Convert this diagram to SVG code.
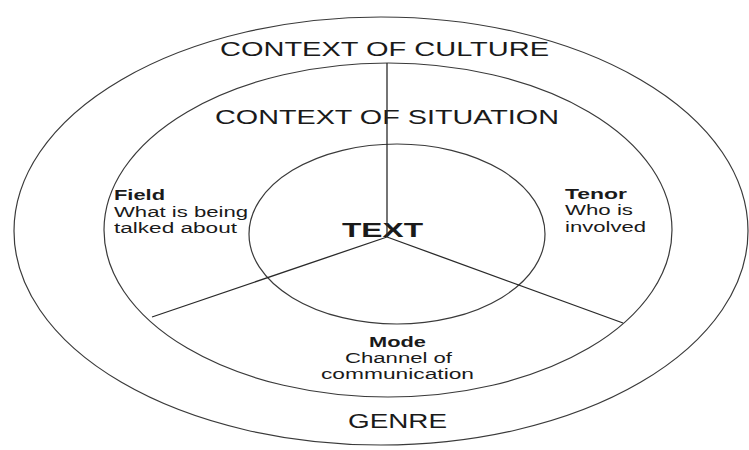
<svg xmlns="http://www.w3.org/2000/svg" width="749" height="450" viewBox="0 0 749 450">
  <style>
    .ring { fill: none; stroke: #3a3a3a; stroke-width: 1.2; }
    .spoke { stroke: #2a2a2a; stroke-width: 1.3; fill: none; }
    text { font-family: "Liberation Sans", Arial, sans-serif; fill: #1a1a1a; }
    .big { font-size: 20px; }
    .small { font-size: 14px; }
    .head { font-size: 14px; font-weight: bold; }
    .core { font-size: 21px; font-weight: bold; }
  </style>
  <rect width="749" height="450" fill="#ffffff"/>

  <!-- outer ring: context of culture / genre -->
  <g id="culture">
    <ellipse class="ring" cx="381" cy="231" rx="367" ry="214"/>
    <text class="big" x="220" y="56" textLength="329" lengthAdjust="spacingAndGlyphs">CONTEXT OF CULTURE</text>
    <text class="big" x="348" y="428" textLength="99" lengthAdjust="spacingAndGlyphs">GENRE</text>
  </g>

  <!-- middle ring: context of situation -->
  <g id="situation">
    <ellipse class="ring" cx="388" cy="230" rx="284" ry="167"/>
    <text class="big" x="215" y="124" textLength="344" lengthAdjust="spacingAndGlyphs">CONTEXT OF SITUATION</text>
  </g>

  <!-- inner ring: the text itself -->
  <g id="text-core">
    <ellipse class="ring" cx="397" cy="234" rx="148" ry="90"/>
    <text class="core" x="342" y="237" textLength="81" lengthAdjust="spacingAndGlyphs">TEXT</text>
  </g>

  <!-- spokes dividing the situation into three sectors -->
  <g id="connectors">
    <line class="spoke" x1="387" y1="63" x2="387" y2="237"/>
    <line class="spoke" x1="387" y1="237" x2="152" y2="317"/>
    <line class="spoke" x1="387" y1="237" x2="623" y2="323"/>
  </g>

  <g id="field">
    <text class="head" x="114" y="200" textLength="51" lengthAdjust="spacingAndGlyphs">Field</text>
    <text class="small" x="114" y="217" textLength="134" lengthAdjust="spacingAndGlyphs">What is being</text>
    <text class="small" x="114" y="233" textLength="123" lengthAdjust="spacingAndGlyphs">talked about</text>
  </g>

  <g id="tenor">
    <text class="head" x="565" y="199" textLength="62" lengthAdjust="spacingAndGlyphs">Tenor</text>
    <text class="small" x="565" y="215" textLength="68" lengthAdjust="spacingAndGlyphs">Who is</text>
    <text class="small" x="565" y="232" textLength="81" lengthAdjust="spacingAndGlyphs">involved</text>
  </g>

  <g id="mode">
    <text class="head" x="369" y="347" textLength="57" lengthAdjust="spacingAndGlyphs">Mode</text>
    <text class="small" x="345" y="363" textLength="107" lengthAdjust="spacingAndGlyphs">Channel of</text>
    <text class="small" x="321" y="379" textLength="153" lengthAdjust="spacingAndGlyphs">communication</text>
  </g>
</svg>
